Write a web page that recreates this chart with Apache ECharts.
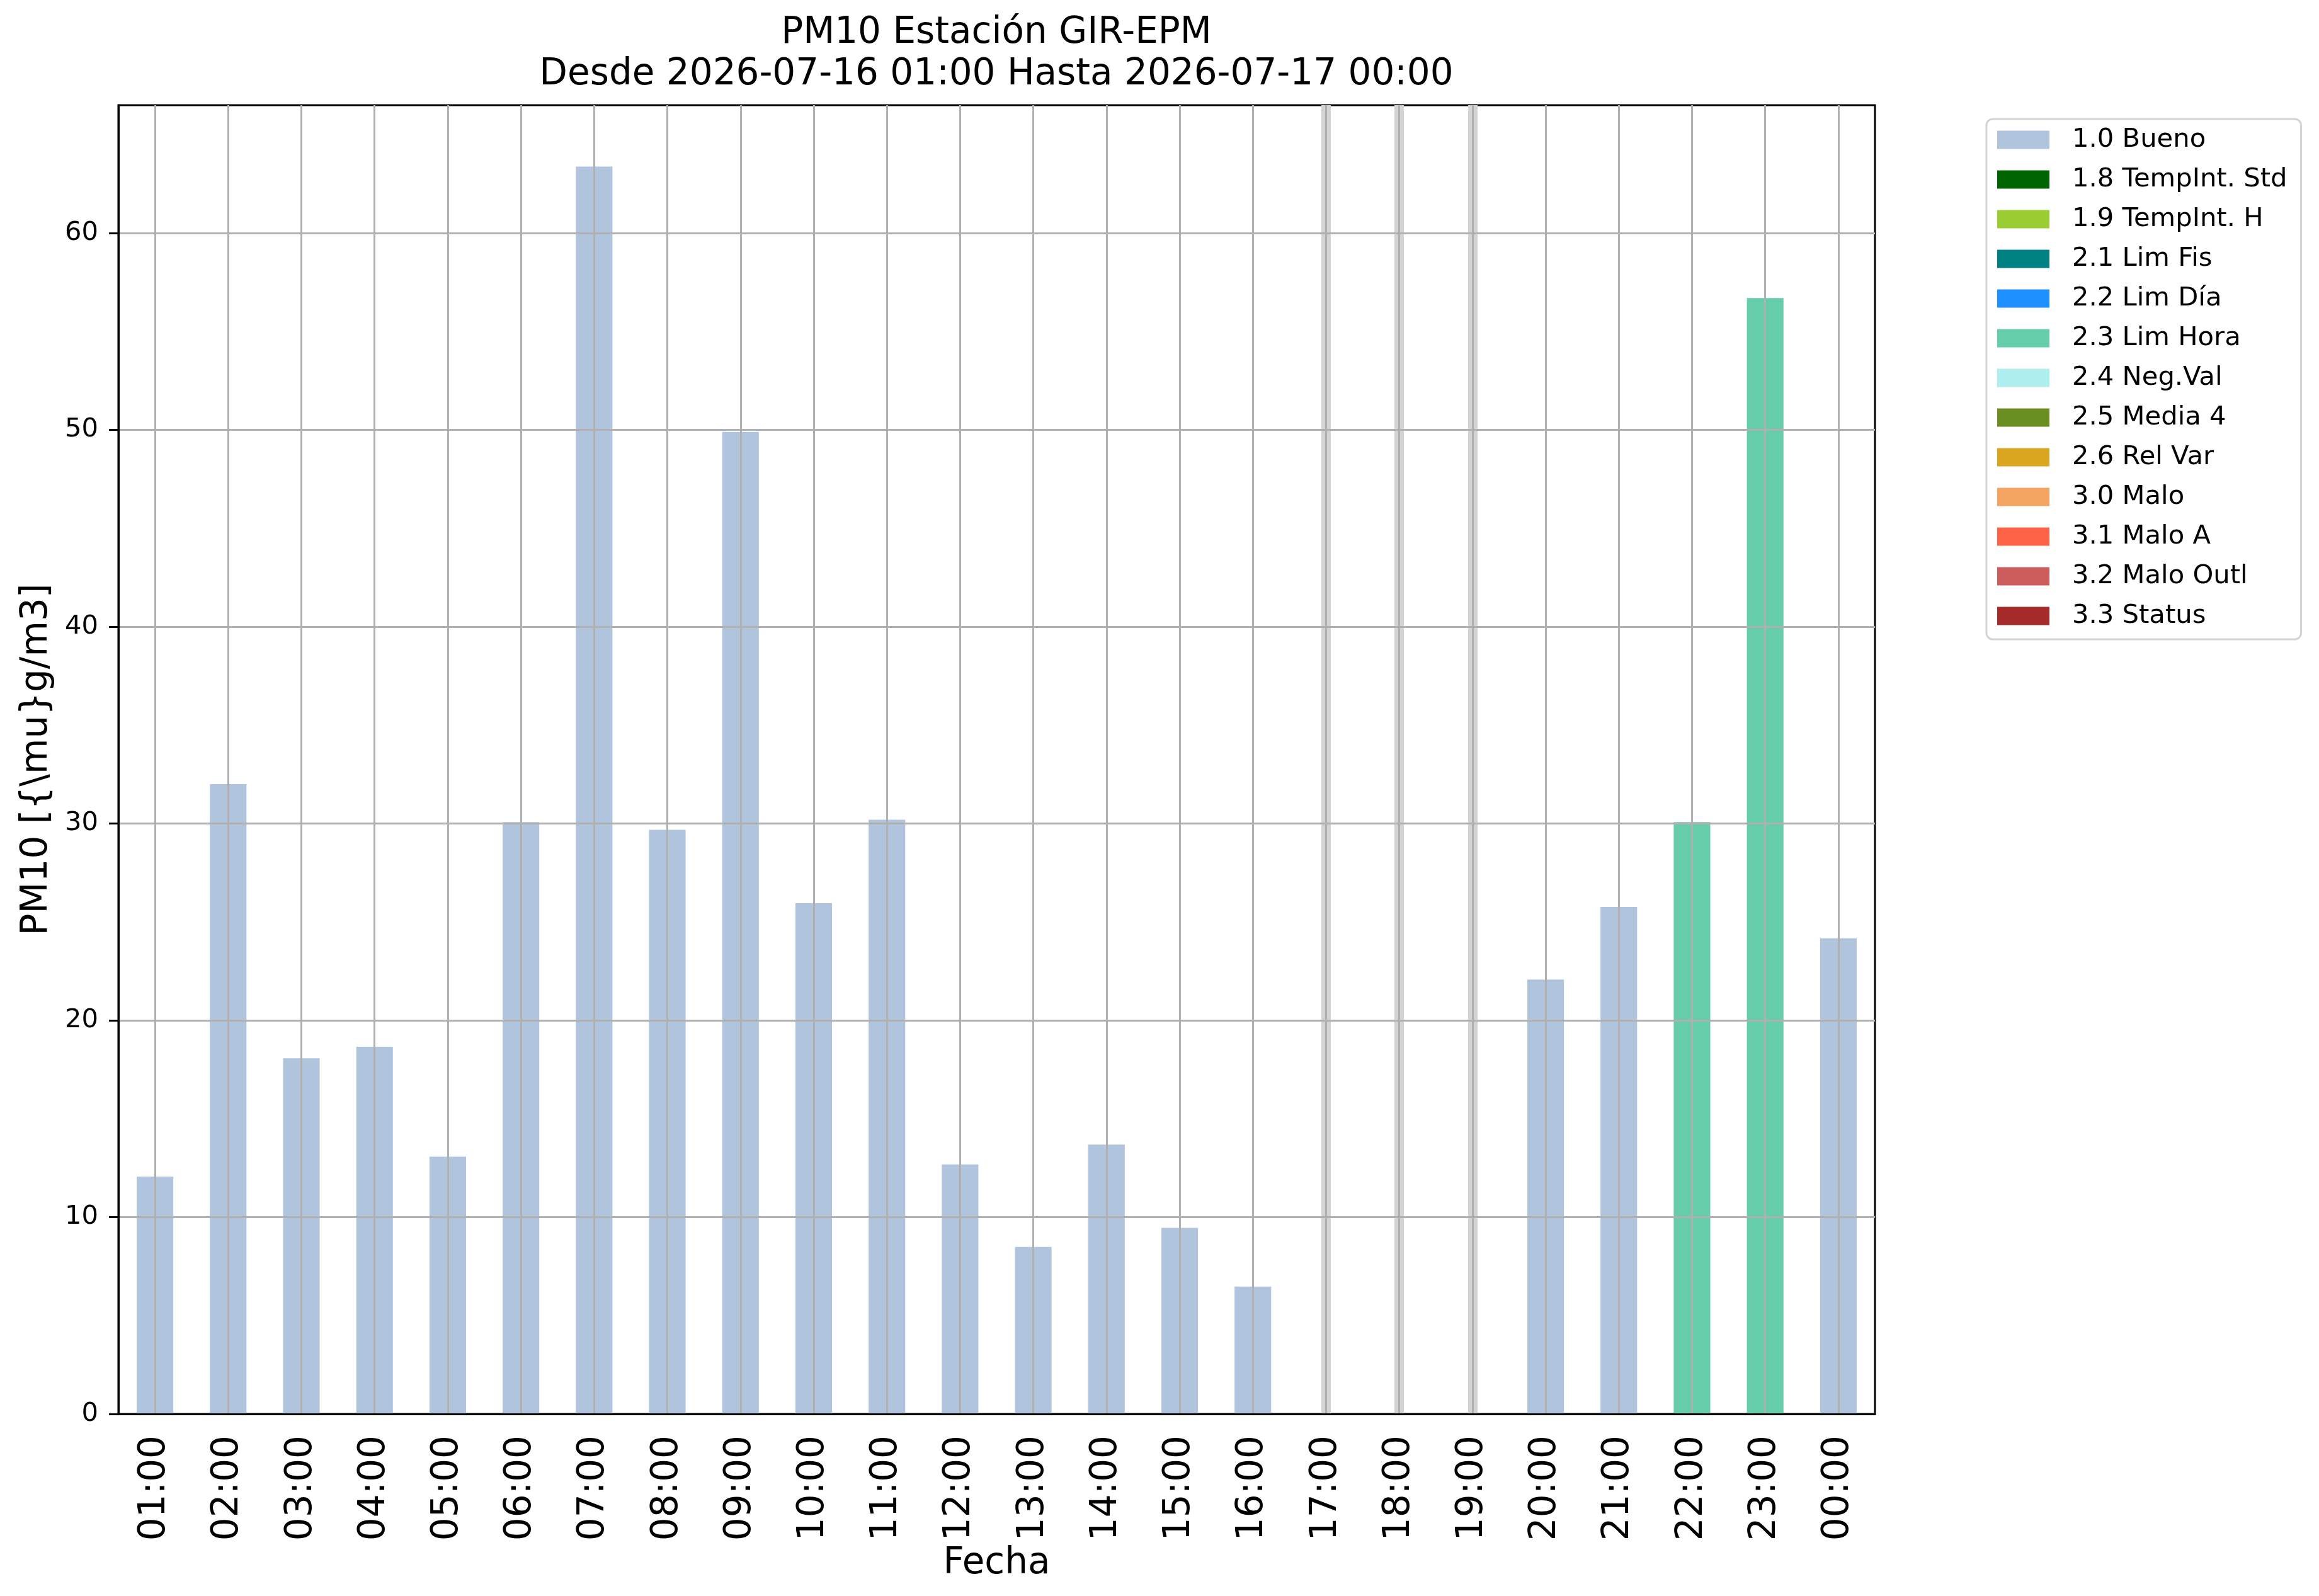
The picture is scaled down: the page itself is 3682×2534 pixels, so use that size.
<!DOCTYPE html>
<html>
<head>
<meta charset="utf-8">
<title>PM10 Estación GIR-EPM</title>
<script src="https://cdn.jsdelivr.net/npm/echarts@6/dist/echarts.min.js"></script>
<style>
  html, body { margin: 0; padding: 0; background: #ffffff; }
  #chart { width: 3682px; height: 2534px; }
</style>
</head>
<body>
<div id="chart"></div>
<script>
const HOURS = ["01:00", "02:00", "03:00", "04:00", "05:00", "06:00", "07:00", "08:00",
  "09:00", "10:00", "11:00", "12:00", "13:00", "14:00", "15:00", "16:00",
  "17:00", "18:00", "19:00", "20:00", "21:00", "22:00", "23:00", "00:00"];
const PM10 = [12.06, 32.0, 18.07, 18.66, 13.07, 30.07, 63.38, 29.68,
  49.9, 25.95, 30.19, 12.68, 8.49, 13.69, 9.46, 6.47,
  null, null, null, 22.07, 25.76, 30.07, 56.7, 24.17];
const FLAGS = ["1.0", "1.0", "1.0", "1.0", "1.0", "1.0", "1.0", "1.0",
  "1.0", "1.0", "1.0", "1.0", "1.0", "1.0", "1.0", "1.0",
  null, null, null, "1.0", "1.0", "2.3", "2.3", "1.0"];

const FLAG_CODES = ["1.0", "1.8", "1.9", "2.1", "2.2", "2.3", "2.4", "2.5", "2.6", "3.0", "3.1", "3.2", "3.3"];
const FLAG_NAMES = ["1.0 Bueno", "1.8 TempInt. Std", "1.9 TempInt. H", "2.1 Lim Fis", "2.2 Lim Día",
  "2.3 Lim Hora", "2.4 Neg.Val", "2.5 Media 4", "2.6 Rel Var", "3.0 Malo", "3.1 Malo A",
  "3.2 Malo Outl", "3.3 Status"];
const FLAG_COLORS = ["#b0c4de", "#006400", "#9acd32", "#008080", "#1e90ff", "#66cdaa", "#afeeee",
  "#6b8e23", "#daa520", "#f4a460", "#ff6347", "#cd5c5c", "#a52a2a"];

const Y_TICKS = [0, 10, 20, 30, 40, 50, 60];
const Y_MAX = 66.5;

const FONT = "DejaVu Sans";
const GRID_COLOR = "#b0b0b0";

// horas sin dato -> franja gris vertical
const missingHours = HOURS.filter((hour, i) => PM10[i] === null);

const series = FLAG_CODES.map((code, k) => ({
  name: FLAG_NAMES[k],
  type: "bar",
  stack: "calidad",
  barWidth: "50%",
  z: 2,
  itemStyle: { color: FLAG_COLORS[k] },
  data: PM10.map((value, i) => (FLAGS[i] === code ? value : "-")),
  markLine: k === 0 ? {
    silent: true,
    z: 1,
    symbol: ["none", "none"],
    label: { show: false },
    lineStyle: { color: "#d3d3d3", width: 15, type: "solid" },
    data: missingHours.map((hour) => ({ xAxis: hour }))
  } : undefined
}));

const chart = echarts.init(document.getElementById("chart"), null, { renderer: "canvas" });
chart.setOption({
  animation: false,
  backgroundColor: "#ffffff",
  textStyle: { fontFamily: FONT, color: "#000" },
  title: {
    text: "PM10 Estación GIR-EPM\nDesde 2026-07-16 01:00 Hasta 2026-07-17 00:00",
    left: 1582,
    top: 20,
    padding: 0,
    textAlign: "center",
    textStyle: { fontFamily: FONT, fontSize: 58, fontWeight: "normal", color: "#000", lineHeight: 66 }
  },
  legend: {
    orient: "vertical",
    left: 3154,
    top: 189,
    padding: [12, 22, 16, 17],
    itemWidth: 83,
    itemHeight: 29,
    itemGap: 21,
    icon: "rect",
    selectedMode: false,
    borderColor: "#d4d4d4",
    borderWidth: 3,
    borderRadius: 10,
    backgroundColor: "#ffffff",
    textStyle: { fontFamily: FONT, fontSize: 41.7, color: "#000", lineHeight: 42, padding: [0, 0, 0, 31] },
    data: FLAG_NAMES
  },
  grid: {
    left: 188,
    top: 167,
    width: 2789,
    height: 2078,
    show: true,
    borderColor: "#000",
    borderWidth: 3,
    containLabel: false
  },
  xAxis: {
    type: "category",
    data: HOURS,
    z: 3,
    boundaryGap: true,
    name: "Fecha",
    nameLocation: "middle",
    nameGap: 200,
    nameTextStyle: { fontFamily: FONT, fontSize: 58, color: "#000", verticalAlign: "top" },
    axisLine: { lineStyle: { color: "#000", width: 3 } },
    axisTick: { alignWithLabel: true, length: 15, lineStyle: { color: "#000", width: 3 }, interval: 0 },
    axisLabel: { interval: 0, rotate: 90, margin: 34, fontFamily: FONT, fontSize: 58, color: "#000" },
    splitLine: { show: true, alignWithLabel: true, interval: 0, lineStyle: { color: GRID_COLOR, width: 3 } }
  },
  yAxis: {
    type: "value",
    min: 0,
    max: Y_MAX,
    interval: 10,
    z: 3,
    name: "PM10 [{\\mu}g/m3]",
    nameLocation: "middle",
    nameGap: 100,
    nameTextStyle: { fontFamily: FONT, fontSize: 58, color: "#000" },
    axisLine: { show: true, lineStyle: { color: "#000", width: 3 } },
    axisTick: { show: true, length: 15, customValues: Y_TICKS, lineStyle: { color: "#000", width: 3 } },
    axisLabel: { margin: 32, customValues: Y_TICKS, fontFamily: FONT, fontSize: 41.7, color: "#000" },
    splitLine: { show: true, lineStyle: { color: GRID_COLOR, width: 3 } }
  },
  series
});
</script>
</body>
</html>
